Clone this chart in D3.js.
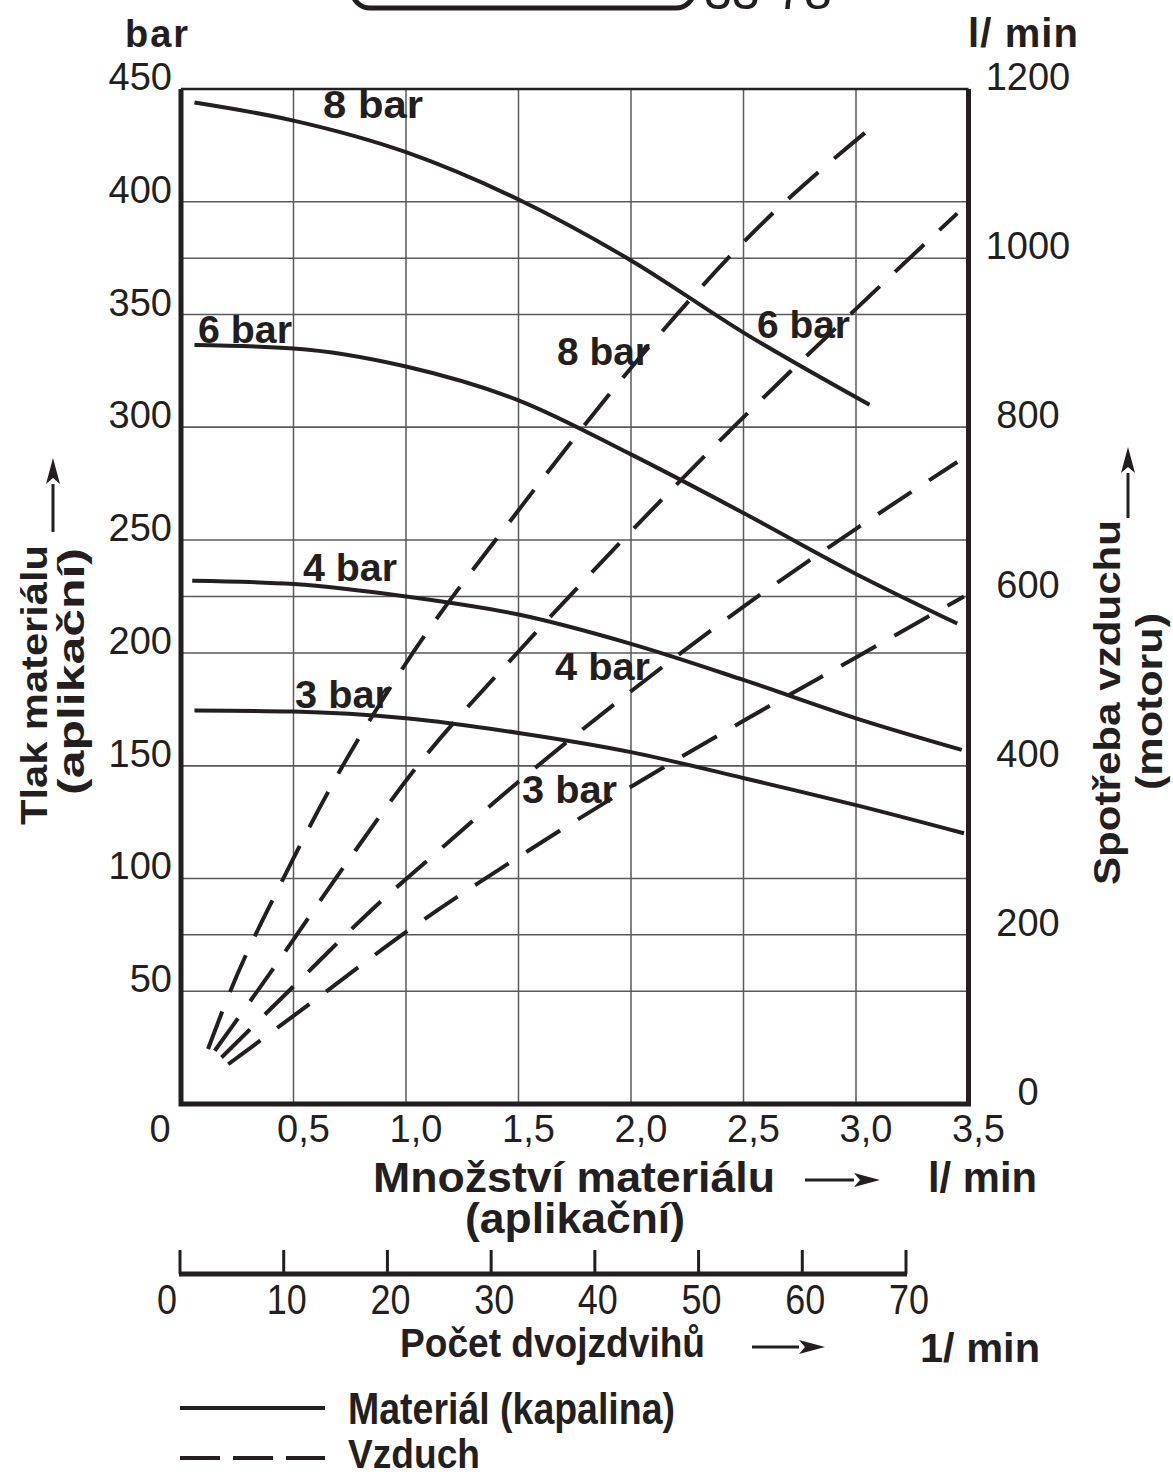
<!DOCTYPE html>
<meta charset="utf-8">
<script src="https://d3js.org/d3.v7.min.js"></script>
<style>
  body { margin: 0; background: #fff; }
  text { fill: #231f20; font-family: "Liberation Sans", Arial, sans-serif; }
  .narrow { font-family: "Liberation Sans Narrow", "Liberation Sans", Arial, sans-serif; }
</style>
<div id="chart"></div>
<script>
// axis ticks
var flowTicks = [0.5, 1.0, 1.5, 2.0, 2.5, 3.0, 3.5];
var pressureTicks = [50, 100, 150, 200, 250, 300, 350, 400, 450];
var airTicks = [0, 200, 400, 600, 800, 1000, 1200];
var strokeTicks = [0, 10, 20, 30, 40, 50, 60, 70];

// material pressure (bar) vs flow (l/min), per air pressure
var material8 = [[0.06, 444], [0.5, 436], [1.0, 422], [1.5, 401], [2.0, 374], [2.5, 342], [3.06, 310]];
var material6 = [[0.06, 336.5], [0.5, 335], [1.0, 327], [1.5, 312], [2.0, 288], [2.5, 262], [3.0, 235], [3.45, 213]];
var material4 = [[0.05, 232], [0.5, 230.5], [1.0, 225], [1.5, 217], [2.0, 204], [2.5, 188], [3.0, 171], [3.47, 157]];
var material3 = [[0.06, 174.5], [0.5, 174], [1.0, 171], [1.5, 164.5], [2.0, 156], [2.5, 144.5], [3.0, 132.5], [3.48, 120]];

// air consumption (l/min) vs flow (l/min)
var air8 = [[0.12, 65], [0.22, 134], [0.45, 264], [0.70, 391], [0.98, 513], [1.5, 702], [2.06, 889], [2.53, 1027], [3.07, 1155]];
var air6 = [[0.15, 63], [0.41, 160], [0.72, 279], [1.04, 396], [1.5, 535], [2.0, 677], [2.5, 812], [3.0, 940], [3.45, 1053]];
var air4 = [[0.18, 55], [0.5, 139], [0.89, 240], [1.1, 289], [1.5, 381], [2.0, 488], [2.5, 588], [3.0, 680], [3.45, 759]];
var air3 = [[0.21, 47], [0.58, 120], [1.02, 207], [1.5, 292], [2.0, 375], [2.5, 453], [3.0, 528], [3.48, 600]];

var ink = "#231f20";

var svg = d3.select("#chart")
  .append("svg")
    .attr("width", 1173)
    .attr("height", 1475);

var x = d3.scaleLinear().domain([0, 3.5]).range([181, 968.5]);
var yP = d3.scaleLinear().domain([0, 450]).range([1104, 89]);
var yA = d3.scaleLinear().domain([0, 1200]).range([1104, 89]);
var xS = d3.scaleLinear().domain([0, 70]).range([180, 906]);

// header box, cut off at the top
svg.append("rect")
  .attr("x", 352).attr("y", -40).attr("width", 342).attr("height", 48).attr("rx", 18)
  .attr("fill", "none").attr("stroke", ink).attr("stroke-width", 5);
svg.append("text").attr("x", 704).attr("y", 9).style("font-size", "50px").text("33-78");

// grid
var grid = svg.append("g").attr("stroke", "#5a5a5a").attr("stroke-width", 1.5);
grid.selectAll("line.v").data(flowTicks.slice(0, -1)).enter().append("line")
  .attr("x1", function(d) { return x(d); }).attr("x2", function(d) { return x(d); })
  .attr("y1", yP(450)).attr("y2", yP(0));
grid.selectAll("line.hp").data(pressureTicks.slice(0, -1)).enter().append("line")
  .attr("x1", x(0)).attr("x2", x(3.5))
  .attr("y1", function(d) { return yP(d); }).attr("y2", function(d) { return yP(d); });
grid.selectAll("line.ha").data(airTicks.slice(1, -1)).enter().append("line")
  .attr("x1", x(0)).attr("x2", x(3.5))
  .attr("y1", function(d) { return yA(d); }).attr("y2", function(d) { return yA(d); });

// frame
svg.append("line").attr("x1", x(0)).attr("x2", x(3.5)).attr("y1", yP(450)).attr("y2", yP(450))
  .attr("stroke", ink).attr("stroke-width", 2.5);
svg.append("path")
  .attr("d", "M" + x(0) + "," + yP(450) + "V" + yP(0) + "H" + x(3.5) + "V" + yP(450))
  .attr("fill", "none").attr("stroke", ink).attr("stroke-width", 5);

// curves
var lineP = d3.line().x(function(d) { return x(d[0]); }).y(function(d) { return yP(d[1]); }).curve(d3.curveMonotoneX);
var lineA = d3.line().x(function(d) { return x(d[0]); }).y(function(d) { return yA(d[1]); }).curve(d3.curveMonotoneX);

[material8, material6, material4, material3].forEach(function(s) {
  svg.append("path").attr("d", lineP(s)).attr("fill", "none")
    .attr("stroke", ink).attr("stroke-width", 4);
});
[air8, air6, air4, air3].forEach(function(s) {
  svg.append("path").attr("d", lineA(s)).attr("fill", "none")
    .attr("stroke", ink).attr("stroke-width", 4).attr("stroke-dasharray", "40,21");
});

// curve labels
var curveLabels = [
  ["8 bar", 323, 118, 100], ["6 bar", 198, 343, 94], ["4 bar", 303, 581, 94], ["3 bar", 295, 708, 95],
  ["8 bar", 557, 365, 93], ["6 bar", 757, 338, 93], ["4 bar", 555, 680, 95], ["3 bar", 522, 803, 95]
];
svg.selectAll("text.cl").data(curveLabels).enter().append("text")
  .attr("x", function(d) { return d[1]; }).attr("y", function(d) { return d[2]; })
  .attr("textLength", function(d) { return d[3]; }).attr("lengthAdjust", "spacingAndGlyphs")
  .style("font-size", "38px").style("font-weight", "bold")
  .text(function(d) { return d[0]; });

// tick labels
svg.selectAll("text.yl").data(pressureTicks).enter().append("text")
  .attr("x", 172).attr("y", function(d) { return yP(d) + 1; })
  .attr("text-anchor", "end").style("font-size", "38px")
  .text(function(d) { return d; });
svg.selectAll("text.yr").data(airTicks).enter().append("text")
  .attr("x", 1028).attr("y", function(d) { return yA(d) + 1; })
  .attr("text-anchor", "middle").style("font-size", "38px")
  .text(function(d) { return d; });
svg.selectAll("text.xl").data(flowTicks).enter().append("text")
  .attr("x", function(d) { return x(d) + 10; }).attr("y", 1142)
  .attr("text-anchor", "middle").style("font-size", "38px")
  .text(function(d) { return d3.format(".1f")(d).replace(".", ","); });
svg.append("text").attr("x", 160).attr("y", 1142).attr("text-anchor", "middle")
  .style("font-size", "38px").text("0");

// unit labels top
svg.append("text").attr("x", 125).attr("y", 47).style("font-size", "38px").style("font-weight", "bold")
  .attr("textLength", 63).text("bar");
svg.append("text").attr("x", 968).attr("y", 47).style("font-size", "40px").style("font-weight", "bold")
  .attr("textLength", 110).text("l/ min");

// arrows
function arrow(x1, y1, x2, y2) {
  var a = Math.atan2(y2 - y1, x2 - x1), L = 26, W = 7;
  var bx = x2 - L * Math.cos(a), by = y2 - L * Math.sin(a);
  svg.append("line").attr("x1", x1).attr("y1", y1).attr("x2", bx).attr("y2", by)
    .attr("stroke", ink).attr("stroke-width", 3);
  svg.append("path")
    .attr("d", "M" + x2 + "," + y2 +
      "L" + (bx + W * Math.sin(a)) + "," + (by - W * Math.cos(a)) +
      "L" + (bx + 6 * Math.cos(a)) + "," + (by + 6 * Math.sin(a)) +
      "L" + (bx - W * Math.sin(a)) + "," + (by + W * Math.cos(a)) + "Z")
    .attr("fill", ink);
}

// bottom flow title
svg.append("text").attr("x", 373).attr("y", 1192).style("font-size", "42px").style("font-weight", "bold")
  .attr("textLength", 402).attr("lengthAdjust", "spacingAndGlyphs").text("Množství materiálu");
arrow(805, 1180, 880, 1180);
svg.append("text").attr("x", 928).attr("y", 1192).style("font-size", "42px").style("font-weight", "bold")
  .attr("textLength", 109).attr("lengthAdjust", "spacingAndGlyphs").text("l/ min");
svg.append("text").attr("x", 465).attr("y", 1233).style("font-size", "42px").style("font-weight", "bold")
  .attr("textLength", 220).attr("lengthAdjust", "spacingAndGlyphs").text("(aplikační)");

// double-stroke axis
var sAxis = svg.append("g");
sAxis.append("line").attr("x1", xS(0) - 1).attr("x2", xS(70) + 1).attr("y1", 1274).attr("y2", 1274)
  .attr("stroke", ink).attr("stroke-width", 5);
sAxis.selectAll("line.t").data(strokeTicks).enter().append("line")
  .attr("x1", function(d) { return xS(d); }).attr("x2", function(d) { return xS(d); })
  .attr("y1", 1250).attr("y2", 1274).attr("stroke", ink).attr("stroke-width", 3);
sAxis.selectAll("text").data(strokeTicks).enter().append("text").attr("class", "narrow")
  .attr("x", function(d) { return xS(d) + (d === 0 ? -13 : 3); }).attr("y", 1314)
  .attr("text-anchor", "middle").style("font-size", "42px")
  .attr("textLength", function(d) { return String(d).length * 20; })
  .attr("lengthAdjust", "spacingAndGlyphs")
  .text(function(d) { return d; });
svg.append("text").attr("class", "narrow").attr("x", 400).attr("y", 1357)
  .style("font-size", "41px").style("font-weight", "bold")
  .attr("textLength", 305).attr("lengthAdjust", "spacingAndGlyphs").text("Počet dvojzdvihů");
arrow(752, 1347, 825, 1347);
svg.append("text").attr("x", 920).attr("y", 1362).style("font-size", "40px").style("font-weight", "bold")
  .attr("textLength", 120).attr("lengthAdjust", "spacingAndGlyphs").text("1/ min");

// side titles
svg.append("text").attr("transform", "translate(47,825) rotate(-90)")
  .style("font-size", "37px").style("font-weight", "bold")
  .attr("textLength", 280).attr("lengthAdjust", "spacingAndGlyphs").text("Tlak materiálu");
svg.append("text").attr("transform", "translate(84,795) rotate(-90)")
  .style("font-size", "37px").style("font-weight", "bold")
  .attr("textLength", 247).attr("lengthAdjust", "spacingAndGlyphs").text("(aplikační)");
arrow(53, 532, 53, 458);
svg.append("text").attr("transform", "translate(1120,885) rotate(-90)")
  .style("font-size", "37px").style("font-weight", "bold")
  .attr("textLength", 365).attr("lengthAdjust", "spacingAndGlyphs").text("Spotřeba vzduchu");
svg.append("text").attr("transform", "translate(1162,790) rotate(-90)")
  .style("font-size", "37px").style("font-weight", "bold")
  .attr("textLength", 177).attr("lengthAdjust", "spacingAndGlyphs").text("(motoru)");
arrow(1128, 518, 1128, 447);

// legend
svg.append("line").attr("x1", 180).attr("x2", 325).attr("y1", 1408).attr("y2", 1408)
  .attr("stroke", ink).attr("stroke-width", 4);
svg.append("line").attr("x1", 180).attr("x2", 325).attr("y1", 1458).attr("y2", 1458)
  .attr("stroke", ink).attr("stroke-width", 4).attr("stroke-dasharray", "40,13");
svg.append("text").attr("class", "narrow").attr("x", 348).attr("y", 1424)
  .style("font-size", "44px").style("font-weight", "bold")
  .attr("textLength", 327).attr("lengthAdjust", "spacingAndGlyphs").text("Materiál (kapalina)");
svg.append("text").attr("class", "narrow").attr("x", 348).attr("y", 1468)
  .style("font-size", "41px").style("font-weight", "bold")
  .attr("textLength", 132).attr("lengthAdjust", "spacingAndGlyphs").text("Vzduch");
</script>
